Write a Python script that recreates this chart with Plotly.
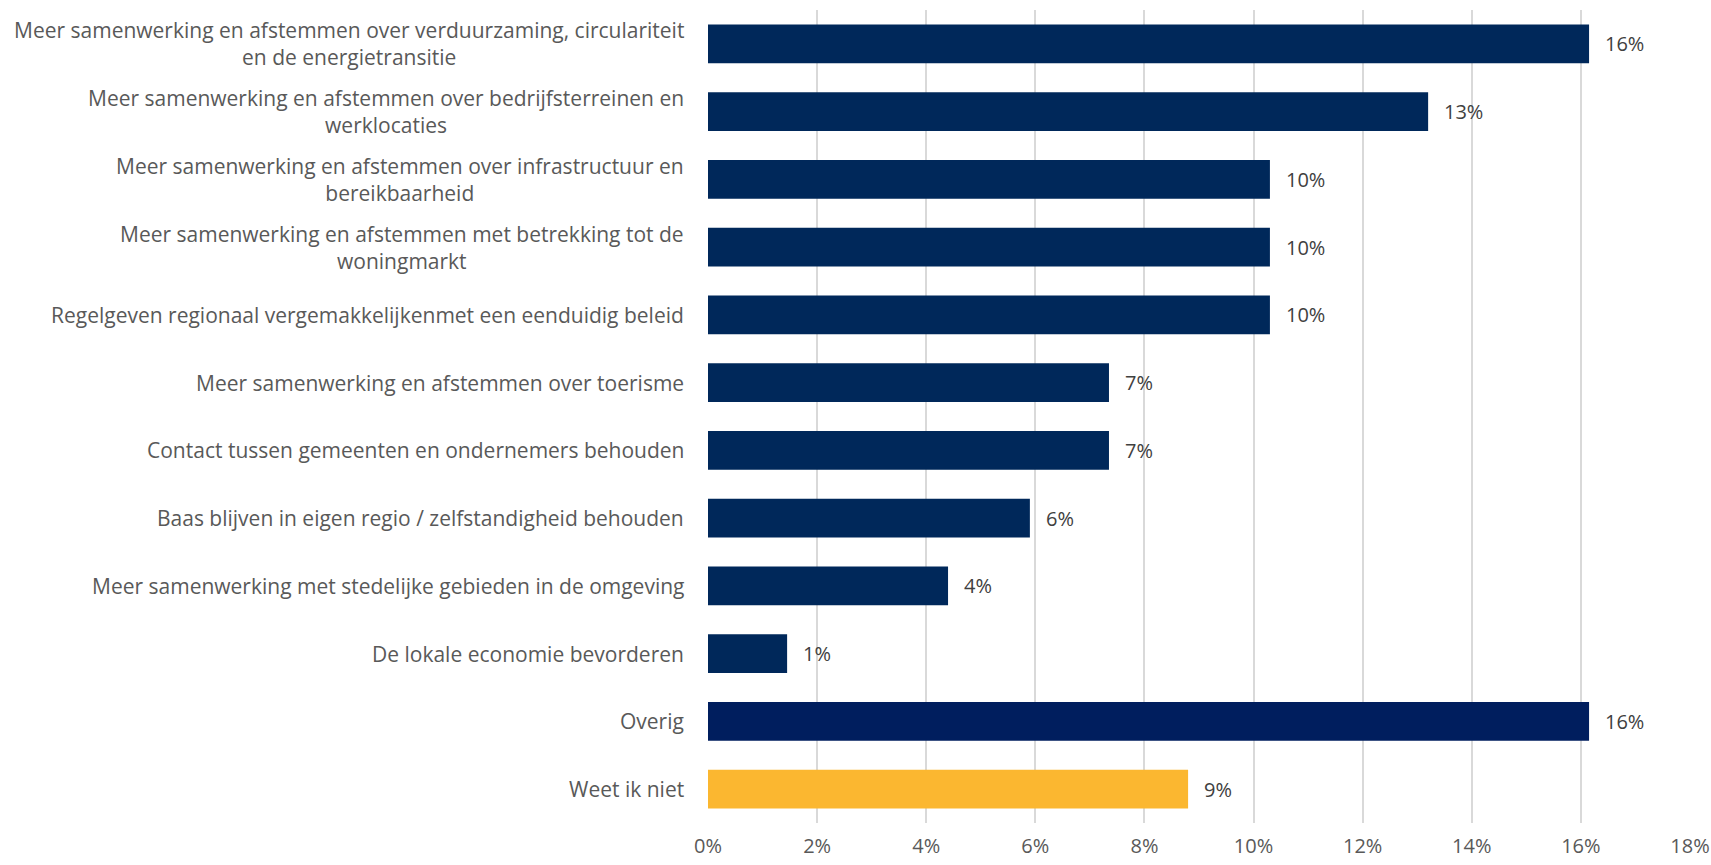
import plotly.graph_objects as go

# categories top-to-bottom
categories = [
    "Meer samenwerking en afstemmen over verduurzaming, circulariteit<br>en de energietransitie",
    "Meer samenwerking en afstemmen over bedrijfsterreinen en<br>werklocaties",
    "Meer samenwerking en afstemmen over infrastructuur en<br>bereikbaarheid",
    "Meer samenwerking en afstemmen met betrekking tot de<br>woningmarkt",
    "Regelgeven regionaal vergemakkelijkenmet een eenduidig beleid",
    "Meer samenwerking en afstemmen over toerisme",
    "Contact tussen gemeenten en ondernemers behouden",
    "Baas blijven in eigen regio / zelfstandigheid behouden",
    "Meer samenwerking met stedelijke gebieden in de omgeving",
    "De lokale economie bevorderen",
    "Overig",
    "Weet ik niet",
]
values = [16.15, 13.2, 10.3, 10.3, 10.3, 7.35, 7.35, 5.9, 4.4, 1.45, 16.15, 8.8]
value_labels = ["16%", "13%", "10%", "10%", "10%", "7%", "7%", "6%", "4%", "1%", "16%", "9%"]
bar_colors = ["#00285A"] * 10 + ["#001E5E", "#FBB730"]

ids = list(range(len(categories)))
FONT = "'Open Sans', sans-serif"

fig = go.Figure()
fig.add_trace(go.Bar(
    x=values, y=ids, orientation="h",
    marker=dict(color=bar_colors, line=dict(width=0)),
    width=0.575, hoverinfo="skip",
))

annotations = []
for i, (cat, v, lab) in enumerate(zip(categories, values, value_labels)):
    annotations.append(dict(
        x=0, xref="paper", y=i, yref="y", text=cat, showarrow=False,
        xanchor="right", align="center", xshift=-22,
        font=dict(family=FONT, size=21, color="#595959"),
    ))
    annotations.append(dict(
        x=v, xref="x", y=i, yref="y", text=lab, showarrow=False,
        xanchor="left", xshift=14,
        font=dict(family=FONT, size=20, color="#404040"),
    ))

fig.update_layout(
    width=1711, height=865,
    margin=dict(l=708, r=21, t=10, b=42),
    plot_bgcolor="white", paper_bgcolor="white",
    showlegend=False,
    annotations=annotations,
    xaxis=dict(
        range=[0, 18], dtick=2, ticksuffix="%",
        showgrid=True, gridcolor="#D9D9D9", gridwidth=1.5,
        zeroline=False, showline=False, ticks="",
        ticklabelstandoff=9, automargin=False, ticklabeloverflow="allow",
        tickfont=dict(family=FONT, size=20, color="#595959"),
    ),
    yaxis=dict(
        range=[len(categories) - 0.5, -0.5],
        showticklabels=False, showgrid=False, zeroline=False, ticks="",
    ),
)

fig.write_html("out.html", config={"displayModeBar": False},
               post_script="document.body.style.margin='0px';")
